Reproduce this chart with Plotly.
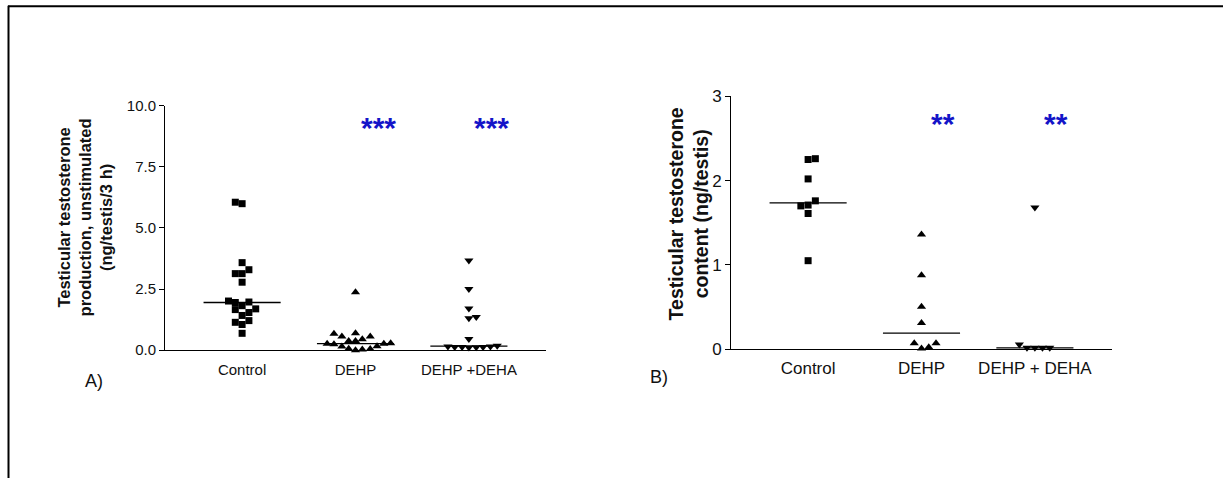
import numpy as np
import plotly.graph_objects as go

W, H = 1223, 478          # reference picture size (px positions below are measured in it)
# The photographed page is shown vertically as y_out = Y_A + Y_S * y_page,
# so page positions are derived from the wanted picture positions.
Y_A, Y_S = 7.8, 0.964
SHIFT = 12                # css shift of the plot div upwards (px)
FIG_H = 506

groups_a = ["Control", "DEHP", "DEHP +DEHA"]
groups_b = ["Control", "DEHP", "DEHP + DEHA"]

# Panel A: testosterone production (ng/testis/3 h)
a_control = [6.05, 5.99, 3.58, 3.29, 3.13, 3.13, 2.78, 2.01, 1.95, 1.97, 1.82, 1.69,
             1.66, 1.54, 1.42, 1.21, 1.14, 1.05, 0.69]
a_control_off = [-0.06, 0.0, 0.0, 0.06, -0.06, 0.0, 0.0, -0.12, -0.06, 0.06, 0.0, 0.12,
                 -0.06, 0.06, 0.0, 0.06, -0.06, 0.0, 0.0]
a_dehp = [2.37, 0.67, 0.69, 0.56, 0.45, 0.56, 0.38, 0.38, 0.26, 0.24, 0.26, 0.28,
          0.15, 0.16, 0.06, 0.0, 0.03, 0.05]
a_dehp_off = [0.0, -0.19, 0.0, -0.12, 0.06, 0.13, -0.06, 0.0, -0.25, -0.19, 0.25, 0.31,
              -0.12, 0.19, -0.06, 0.0, 0.06, 0.13]
a_deha = [3.67, 2.50, 1.70, 1.31, 1.36, 0.46, 0.15, 0.13, 0.13, 0.11, 0.12, 0.13, 0.15, 0.18]
a_deha_off = [0.0, 0.0, 0.0, 0.0, 0.065, 0.0, -0.185, -0.125, -0.06, 0.0, 0.065, 0.125,
              0.19, 0.25]

# Panel B: testosterone content (ng/testis)
b_control = [2.25, 2.26, 2.02, 1.76, 1.70, 1.71, 1.61, 1.05]
b_control_off = [0.0, 0.064, 0.0, 0.064, -0.064, 0.0, 0.0, 0.0]
b_dehp = [1.36, 0.876, 0.505, 0.31, 0.07, 0.07, 0.008, 0.024]
b_dehp_off = [0.0, 0.0, 0.0, 0.0, -0.064, 0.128, 0.0, 0.064]
b_deha = [1.68, 0.055, 0.016, 0.016, 0.016, 0.016]
b_deha_off = [0.0, -0.137, -0.07, 0.0, 0.067, 0.131]

yticks_a = [0, 2.5, 5.0, 7.5, 10.0]
ytext_a = ["0.0", "2.5", "5.0", "7.5", "10.0"]
yticks_b = [0, 1, 2, 3]

sig_a = ["", "***", "***"]
sig_b = ["", "**", "**"]

fig = go.Figure()

def add_group(vals, offs, idx, symbol, size, xa, ya):
    fig.add_trace(go.Scatter(
        x=[idx + o for o in offs], y=vals, mode="markers",
        marker=dict(symbol=symbol, size=size, color="black", line=dict(width=0)),
        xaxis=xa, yaxis=ya, cliponaxis=False, showlegend=False, hoverinfo="y"))
    m = float(np.median(vals))
    fig.add_trace(go.Scatter(
        x=[idx - 0.34, idx + 0.34], y=[m, m], mode="lines",
        line=dict(color="black", width=1.3),
        xaxis=xa, yaxis=ya, cliponaxis=False, showlegend=False, hoverinfo="skip"))

add_group(a_control, a_control_off, 0, "square", 7, "x", "y")
add_group(a_dehp, a_dehp_off, 1, "triangle-up", 8, "x", "y")
add_group(a_deha, a_deha_off, 2, "triangle-down", 8, "x", "y")
add_group(b_control, b_control_off, 0, "square", 7, "x2", "y2")
add_group(b_dehp, b_dehp_off, 1, "triangle-up", 8, "x2", "y2")
add_group(b_deha, b_deha_off, 2, "triangle-down", 8, "x2", "y2")

FAM = "Arial, Liberation Sans, sans-serif"
font_a = dict(family=FAM, size=15, color="#111")
font_b = dict(family=FAM, size=17, color="#111")

def px_x(p):
    return p / W

def px_y(p):
    fy = (p - Y_A) / Y_S + SHIFT
    return 1 - fy / FIG_H

xcommon = dict(range=[-0.68, 2.68], tickvals=[0, 1, 2], ticks="", showgrid=False,
               zeroline=False, showline=True, linecolor="black", linewidth=1,
               fixedrange=True)
ycommon = dict(showgrid=False, zeroline=False, showline=True, linecolor="black",
               linewidth=1, ticks="outside", ticklen=5, tickcolor="black",
               fixedrange=True)

fig.update_layout(
    width=W, height=FIG_H, margin=dict(l=0, r=0, t=0, b=0),
    paper_bgcolor="white", plot_bgcolor="white",
    xaxis=dict(domain=[px_x(165), px_x(546)], ticktext=groups_a, anchor="y",
               tickfont=font_a, ticklabelstandoff=6, **xcommon),
    yaxis=dict(domain=[px_y(350), px_y(105)], range=[0, 10], tickvals=yticks_a,
               ticktext=ytext_a, anchor="x", tickfont=font_a, **ycommon),
    xaxis2=dict(domain=[px_x(731), px_x(1112)], ticktext=groups_b, anchor="y2",
                tickfont=font_b, ticklabelstandoff=3, **xcommon),
    yaxis2=dict(domain=[px_y(349), px_y(95.7)], range=[0, 3], tickvals=yticks_b,
                anchor="x2", tickfont=font_b, **ycommon),
)

ann = []
star_font = dict(family=FAM, size=30, color="#1414c8")
for i, s in enumerate(sig_a):
    if s:
        ann.append(dict(x=i + 0.2, y=9.24, xref="x", yref="y", text="<b>" + s + "</b>",
                        showarrow=False, font=star_font, xanchor="center",
                        yanchor="middle", yshift=-3.5))
for i, s in enumerate(sig_b):
    if s:
        ann.append(dict(x=i + 0.19, y=2.72, xref="x2", yref="y2", text="<b>" + s + "</b>",
                        showarrow=False, font=star_font, xanchor="center",
                        yanchor="middle", yshift=-3.5))

ann.append(dict(x=px_x(85), y=px_y(217), xref="paper", yref="paper",
                text="<b>Testicular testosterone<br>production, unstimulated<br>(ng/testis/3 h)</b>",
                textangle=-90, showarrow=False, xanchor="center", yanchor="middle",
                font=dict(family=FAM, size=16.5, color="#111"), align="center"))
ann.append(dict(x=px_x(688), y=px_y(214), xref="paper", yref="paper",
                text="<b>Testicular testosterone<br>content (ng/testis)</b>",
                textangle=-90, showarrow=False, xanchor="center", yanchor="middle",
                font=dict(family=FAM, size=19.5, color="#111"), align="center"))
lab_font = dict(family=FAM, size=18, color="#111")
ann.append(dict(x=px_x(94), y=px_y(381), xref="paper", yref="paper", text="A)",
                showarrow=False, xanchor="center", yanchor="middle", font=lab_font))
ann.append(dict(x=px_x(659), y=px_y(377), xref="paper", yref="paper", text="B)",
                showarrow=False, xanchor="center", yanchor="middle", font=lab_font))
fig.update_layout(annotations=ann)

fig.update_layout(shapes=[
    dict(type="line", xref="paper", yref="paper", x0=px_x(8), x1=1, y0=px_y(5.5), y1=px_y(5.5),
         line=dict(color="black", width=2)),
    dict(type="line", xref="paper", yref="paper", x0=px_x(8.5), x1=px_x(8.5), y0=px_y(5), y1=0,
         line=dict(color="black", width=2)),
])

post = ("var d=document;d.documentElement.style.margin='0';d.documentElement.style.padding='0';"
        "d.body.style.margin='0';d.body.style.padding='0';"
        "var g=d.getElementById('{plot_id}');g.style.position='relative';"
        "g.style.top='-" + str(SHIFT) + "px';")

fig.write_html("out.html", config={"displayModeBar": False}, post_script=post)
